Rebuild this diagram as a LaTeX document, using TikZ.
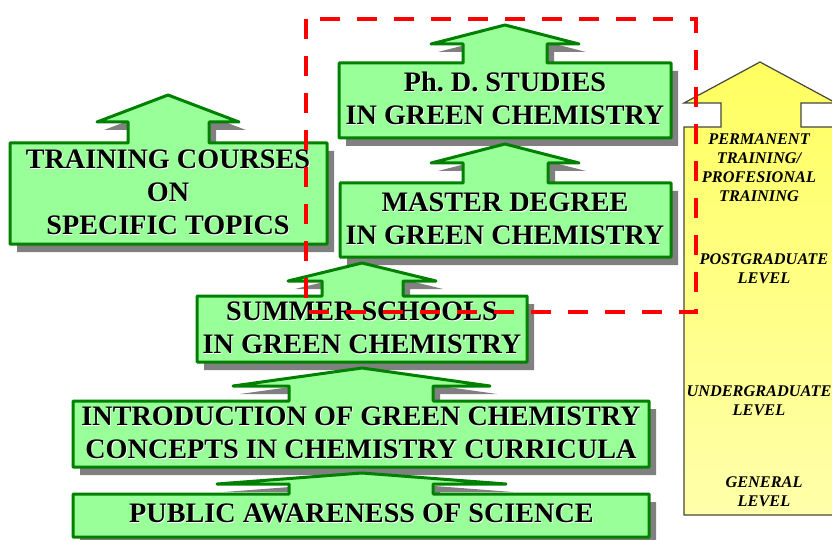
\documentclass[tikz,border=0pt]{standalone}
\usepackage{fontspec}
\setmainfont{Liberation Serif}
\definecolor{boxfill}{RGB}{153,255,153}
\definecolor{boxedge}{RGB}{0,128,0}
\definecolor{shadowgray}{RGB}{128,128,128}
\definecolor{levelTop}{RGB}{255,255,96}
\definecolor{levelBottom}{RGB}{255,255,170}
\definecolor{levelEdge}{RGB}{70,70,60}
% bold caption with a light offset copy behind it
\newcommand\emb[1]{\rlap{\kern0.8pt\raisebox{-0.8pt}{\color{white}#1}}#1}
\begin{document}
\frenchspacing
\begin{tikzpicture}[x=1pt,y=-1pt,
  calloutgreen/.style={draw=boxedge, fill=boxfill, line width=3pt, line join=round,
    preaction={fill=shadowgray, transform canvas={xshift=7pt,yshift=-8pt}}},
  calloutyellow/.style={draw=levelEdge, line width=1.2pt, line join=miter,
    top color=levelTop, bottom color=levelBottom},
  boxtext/.style={font=\bfseries\fontsize{28.2}{33}\selectfont, align=center, inner sep=0pt},
  leveltext/.style={font=\bfseries\itshape\fontsize{16.3}{19}\selectfont, align=center,
    inner sep=0pt, text=black},
  frame/.style={draw=red, line width=4pt, dash pattern=on 20pt off 17pt}]
\useasboundingbox (0,0) rectangle (832,540);
\clip (0,0) rectangle (832,540);

% up-arrow callouts, top to bottom
\path[calloutgreen] (339,63) -- (463,63) -- (463,44) -- (431,44) -- (505,25) -- (579,44)
  -- (547,44) -- (547,63) -- (671,63) -- (671,138) -- (339,138) -- cycle;
\path[calloutgreen] (340,183) -- (463,183) -- (463,163) -- (431,163) -- (505,144) -- (579,163)
  -- (548,163) -- (548,183) -- (671,183) -- (671,257) -- (340,257) -- cycle;
\path[calloutgreen] (10,143) -- (128,143) -- (128,122) -- (97,122) -- (168,95) -- (239,122)
  -- (209,122) -- (209,143) -- (327,143) -- (327,244) -- (10,244) -- cycle;
\path[calloutgreen] (197,296) -- (322,296) -- (322,281) -- (288,281) -- (362,263) -- (436,281)
  -- (403,281) -- (403,296) -- (527,296) -- (527,362) -- (197,362) -- cycle;
\path[calloutgreen] (73,401) -- (289,401) -- (289,386) -- (233,386) -- (362,368) -- (490,386)
  -- (433,386) -- (433,401) -- (649,401) -- (649,467) -- (73,467) -- cycle;
\path[calloutgreen] (73,494) -- (289,494) -- (289,484) -- (217,484) -- (362,473) -- (506,484)
  -- (433,484) -- (433,494) -- (649,494) -- (649,537) -- (73,537) -- cycle;

% level scale on the right
\path[calloutyellow] (684,127) -- (721,127) -- (721,103) -- (684,103) -- (760,62) -- (836,103)
  -- (801,103) -- (801,127) -- (836,127) -- (836,515) -- (684,515) -- cycle;

% captions
\node[boxtext] (phd) at (505,99) {\emb{Ph. D. STUDIES}\\\emb{IN GREEN CHEMISTRY}};
\node[boxtext] (master) at (505,219) {\emb{MASTER DEGREE}\\\emb{IN GREEN CHEMISTRY}};
\node[boxtext] (training) at (168,193) {\emb{TRAINING COURSES}\\\emb{ON}\\\emb{SPECIFIC TOPICS}};
\node[boxtext] (summer) at (362,328) {\emb{SUMMER SCHOOLS}\\\emb{IN GREEN CHEMISTRY}};
\node[boxtext] (intro) at (361,433) {\emb{INTRODUCTION OF GREEN CHEMISTRY}\\\emb{CONCEPTS IN CHEMISTRY CURRICULA}};
\node[boxtext] (public) at (361.5,514) {\emb{PUBLIC AWARENESS OF SCIENCE}};

\node[leveltext] (permanent) at (759,168) {PERMANENT\\TRAINING/\\PROFESIONAL\\TRAINING};
\node[leveltext] (postgrad) at (764,268.5) {POSTGRADUATE\\LEVEL};
\node[leveltext] (undergrad) at (759,400.5) {UNDERGRADUATE\\LEVEL};
\node[leveltext] (general) at (764,492) {GENERAL\\LEVEL};

% highlighted postgraduate block
\draw[frame] (306,19) rectangle (696,312);
\end{tikzpicture}
\end{document}
